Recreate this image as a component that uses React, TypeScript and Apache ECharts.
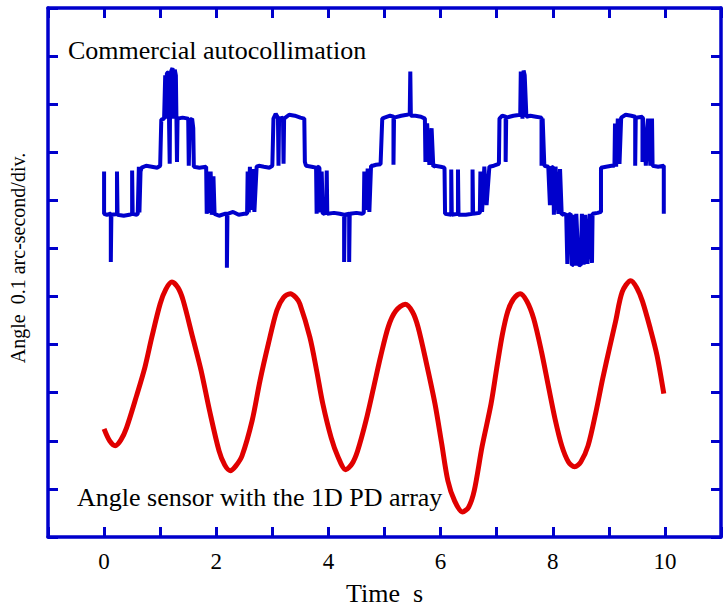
import React, { useEffect, useRef } from "react";
import * as echarts from "echarts";

// ---- data ----
const xTickValues = [0, 2, 4, 6, 8, 10];
const xTitle = "Time  s";
const yTitle = "Angle  0.1 arc-second/div.";
const blueLabel = "Commercial autocollimation";
const redLabel = "Angle sensor with the 1D PD array";

// Commercial autocollimator reading: [time s, angle div]
const commercialSeries: number[][] = [
  [0.0, 7.6], [0.0, 6.72], [0.05, 6.7], [0.1, 6.72],
  [0.12, 6.72], [0.12, 5.72], [0.13, 6.7],
  [0.2, 6.71], [0.23, 6.72], [0.23, 7.6], [0.24, 6.7],
  [0.35, 6.68], [0.45, 6.7], [0.5, 6.72], [0.5, 7.62], [0.51, 6.72],
  [0.58, 6.7], [0.6, 6.72], [0.62, 7.7], [0.63, 6.75], [0.65, 7.6], [0.67, 7.68],
  [0.75, 7.72], [0.85, 7.7], [0.95, 7.68], [1.0, 7.72],
  [1.02, 8.68], [1.07, 8.7], [1.09, 9.6], [1.11, 8.7], [1.12, 9.65], [1.15, 9.66],
  [1.16, 8.5], [1.17, 7.76], [1.18, 9.6], [1.2, 9.7], [1.22, 9.75], [1.24, 8.7],
  [1.26, 9.72], [1.28, 9.6], [1.29, 8.7], [1.3, 7.8], [1.31, 8.7],
  [1.4, 8.72], [1.5, 8.7], [1.51, 7.72], [1.53, 8.66], [1.57, 8.7], [1.59, 8.5], [1.6, 7.7],
  [1.7, 7.68], [1.82, 7.7], [1.83, 6.72], [1.85, 7.6], [1.87, 6.74], [1.9, 7.6],
  [1.92, 6.7], [1.95, 7.5], [1.97, 6.72],
  [2.05, 6.68], [2.15, 6.72], [2.19, 6.72], [2.19, 5.6], [2.2, 6.72], [2.3, 6.76],
  [2.4, 6.7], [2.5, 6.72], [2.55, 6.72], [2.56, 7.6], [2.58, 6.75], [2.6, 7.7],
  [2.62, 6.8], [2.65, 7.65], [2.68, 6.76], [2.72, 7.7], [2.76, 7.72],
  [2.85, 7.7], [2.95, 7.68], [3.0, 7.72],
  [3.02, 8.7], [3.06, 8.8], [3.1, 8.72], [3.11, 7.72], [3.12, 8.7], [3.19, 8.72],
  [3.2, 7.76], [3.21, 8.7], [3.3, 8.78], [3.4, 8.76], [3.5, 8.72], [3.57, 8.7],
  [3.58, 7.8], [3.6, 7.72], [3.7, 7.7], [3.78, 7.68], [3.79, 6.72], [3.8, 7.7],
  [3.84, 7.68], [3.85, 6.75], [3.88, 7.6], [3.9, 6.72],
  [3.96, 6.74], [3.97, 7.62], [3.98, 6.72], [4.1, 6.74], [4.2, 6.72], [4.28, 6.7],
  [4.28, 5.72], [4.29, 6.7], [4.37, 6.72], [4.37, 5.72], [4.38, 6.72], [4.5, 6.74], [4.6, 6.72],
  [4.63, 6.74], [4.64, 7.6], [4.67, 6.8], [4.7, 7.66], [4.73, 6.76], [4.76, 7.72], [4.79, 7.72],
  [4.85, 7.74], [4.93, 7.75],
  [4.96, 8.7], [5.0, 8.72], [5.1, 8.76], [5.16, 8.74], [5.16, 7.74], [5.17, 8.72],
  [5.3, 8.76], [5.4, 8.78], [5.45, 8.8], [5.46, 9.68], [5.47, 8.76], [5.55, 8.76],
  [5.65, 8.74], [5.72, 8.7],
  [5.73, 7.8], [5.76, 8.6], [5.8, 7.74], [5.84, 8.5], [5.87, 7.7], [5.9, 7.72],
  [6.0, 7.7], [6.07, 7.68],
  [6.08, 6.72], [6.19, 6.7], [6.19, 7.64], [6.2, 6.7], [6.31, 6.72], [6.31, 7.64],
  [6.32, 6.7], [6.45, 6.7], [6.57, 6.72], [6.57, 7.64], [6.58, 6.72], [6.7, 6.74],
  [6.71, 7.6], [6.74, 6.76], [6.78, 7.7], [6.82, 6.9], [6.87, 7.7],
  [6.95, 7.72], [7.04, 7.76],
  [7.05, 8.7], [7.1, 8.76], [7.16, 8.74], [7.16, 7.8], [7.17, 8.72], [7.3, 8.76],
  [7.42, 8.78], [7.43, 9.68], [7.46, 8.7], [7.48, 9.7], [7.5, 9.6], [7.53, 8.74],
  [7.6, 8.76], [7.7, 8.74], [7.8, 8.72],
  [7.8, 7.72], [7.82, 8.7], [7.85, 7.72],
  [7.92, 7.7], [7.95, 6.9], [7.98, 7.7], [8.01, 7.68], [8.02, 6.7], [8.05, 7.7],
  [8.1, 6.72], [8.13, 7.65], [8.16, 6.7], [8.2, 6.72],
  [8.24, 6.7], [8.26, 5.68], [8.28, 6.7], [8.32, 6.72], [8.34, 5.65], [8.36, 5.66],
  [8.38, 6.7], [8.4, 5.64], [8.42, 6.72], [8.46, 5.66], [8.5, 5.65], [8.52, 6.72],
  [8.55, 5.66], [8.58, 6.7], [8.62, 5.68], [8.66, 6.72], [8.7, 5.7], [8.71, 6.72],
  [8.8, 6.74], [8.86, 6.76],
  [8.86, 7.68], [8.95, 7.7], [9.05, 7.72], [9.1, 7.72],
  [9.11, 8.6], [9.13, 7.7], [9.16, 8.7], [9.19, 7.76], [9.22, 8.72], [9.3, 8.78],
  [9.4, 8.76], [9.47, 8.74], [9.47, 7.72], [9.48, 8.72], [9.6, 8.74], [9.6, 7.8],
  [9.61, 8.72], [9.66, 7.72], [9.7, 8.7], [9.74, 7.72], [9.77, 8.7],
  [9.78, 7.72], [9.88, 7.7], [9.98, 7.72], [9.98, 6.72],
];

// Angle sensor with the 1D PD array: [time s, angle div]
const sensorSeries: number[][] = [
  [0.0, 2.25], [0.1, 2.0], [0.2, 1.9], [0.3, 2.02], [0.4, 2.27], [0.58, 2.94], [0.73, 3.54],
  [0.85, 4.15], [1.0, 4.85], [1.1, 5.15], [1.21, 5.3], [1.32, 5.18], [1.41, 4.92],
  [1.58, 4.15], [1.73, 3.46], [1.88, 2.63], [2.05, 1.79], [2.15, 1.5], [2.25, 1.38],
  [2.35, 1.48], [2.46, 1.69], [2.64, 2.42], [2.78, 3.25], [2.93, 4.02], [3.08, 4.71],
  [3.2, 4.98], [3.32, 5.06], [3.42, 4.98], [3.49, 4.85], [3.67, 4.15], [3.79, 3.46],
  [3.9, 2.77], [4.05, 2.06], [4.17, 1.67], [4.31, 1.4], [4.42, 1.52], [4.52, 1.79],
  [4.67, 2.42], [4.81, 3.13], [4.93, 3.75], [5.07, 4.38], [5.2, 4.7], [5.37, 4.84],
  [5.5, 4.68], [5.6, 4.36], [5.75, 3.6], [5.9, 2.77], [6.02, 1.94], [6.13, 1.17],
  [6.25, 0.75], [6.39, 0.52], [6.5, 0.62], [6.6, 0.96], [6.74, 1.88], [6.9, 2.77],
  [7.0, 3.5], [7.1, 4.2], [7.2, 4.7], [7.3, 4.95], [7.42, 5.06], [7.54, 4.9],
  [7.66, 4.54], [7.8, 3.85], [7.92, 3.15], [8.04, 2.46], [8.16, 1.9], [8.28, 1.56],
  [8.39, 1.46], [8.5, 1.56], [8.63, 1.9], [8.77, 2.6], [8.89, 3.29], [9.01, 3.92],
  [9.12, 4.48], [9.24, 5.1], [9.39, 5.33], [9.5, 5.18], [9.6, 4.9], [9.74, 4.33],
  [9.86, 3.77], [9.98, 2.98],
];

const BLUE = "#0000cc";
const RED = "#e00000";
const FONT = "'Liberation Serif', 'Times New Roman', serif";

export default function App() {
  const ref = useRef<HTMLDivElement>(null);

  useEffect(() => {
    document.body.style.margin = "0";
    if (!ref.current) return;
    const chart = echarts.init(ref.current, undefined, { renderer: "svg" });

    const axisLine = { show: true, onZero: false, lineStyle: { color: BLUE, width: 3.5 } };
    const axisTick = { show: true, inside: true, length: 10, lineStyle: { color: BLUE, width: 3 } };

    chart.setOption({
      animation: false,
      backgroundColor: "#ffffff",
      grid: { left: 48, top: 8, right: -6, bottom: 74, containLabel: false },
      xAxis: [
        {
          type: "value",
          position: "bottom",
          min: -1,
          max: 11,
          interval: 1,
          axisLine,
          axisTick,
          splitLine: { show: false },
          axisLabel: {
            color: "#000",
            fontFamily: FONT,
            fontSize: 23,
            margin: 13,
            formatter: (v: number) => (xTickValues.indexOf(v) >= 0 ? String(v) : ""),
          },
          name: xTitle,
          nameLocation: "middle",
          nameGap: 43,
          nameTextStyle: { color: "#000", fontFamily: FONT, fontSize: 26 },
        },
        {
          type: "value",
          position: "top",
          min: -1,
          max: 11,
          interval: 1,
          axisLine,
          axisTick,
          splitLine: { show: false },
          axisLabel: { show: false },
        },
      ],
      yAxis: [
        {
          type: "value",
          position: "left",
          min: 0,
          max: 11,
          interval: 1,
          axisLine,
          axisTick,
          splitLine: { show: false },
          axisLabel: { show: false },
        },
        {
          type: "value",
          position: "right",
          min: 0,
          max: 11,
          interval: 1,
          axisLine,
          axisTick,
          splitLine: { show: false },
          axisLabel: { show: false },
        },
      ],
      series: [
        {
          type: "line",
          data: commercialSeries,
          showSymbol: false,
          lineStyle: { color: BLUE, width: 4 },
          z: 3,
        },
        {
          type: "line",
          data: sensorSeries,
          showSymbol: false,
          smooth: 0.3,
          lineStyle: { color: RED, width: 5 },
          z: 3,
        },
      ],
      graphic: [
        {
          type: "text",
          left: 68,
          top: 37,
          style: { text: blueLabel, fill: "#000", font: `26px ${FONT}` },
        },
        {
          type: "text",
          left: 77,
          top: 484,
          style: { text: redLabel, fill: "#000", font: `26px ${FONT}` },
        },
        {
          type: "text",
          x: 18,
          y: 258,
          rotation: Math.PI / 2,
          style: {
            text: yTitle,
            fill: "#000",
            font: `20px ${FONT}`,
            align: "center",
            verticalAlign: "middle",
          },
        },
      ],
    });

    return () => chart.dispose();
  }, []);

  return (
    <div
      ref={ref}
      style={{ position: "absolute", left: 0, top: 0, width: 724, height: 611 }}
    />
  );
}
